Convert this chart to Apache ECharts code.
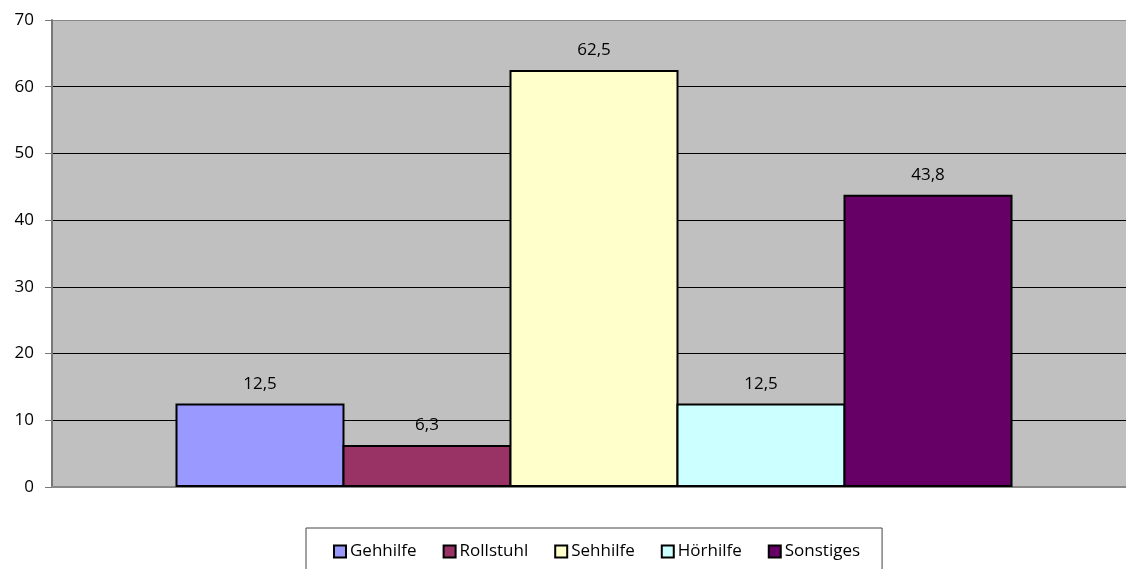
<!DOCTYPE html>
<html>
<head>
<meta charset="utf-8">
<script src="https://cdn.jsdelivr.net/npm/echarts@6/dist/echarts.min.js"></script>
<style>
html,body{margin:0;padding:0;background:#fff;overflow:hidden;}
#box{width:1136px;height:569px;}
</style>
</head>
<body>
<div id="box"></div>
<script>
//Daten
var names = ["Gehhilfe", "Rollstuhl", "Sehhilfe", "Hörhilfe", "Sonstiges"];
var values = [12.5, 6.3, 62.5, 12.5, 43.8];
var yTicks = [0, 10, 20, 30, 40, 50, 60, 70];

var colors = ["#9999FF", "#993366", "#FFFFCC", "#CCFFFF", "#660066"];
var font = "'Open Sans', sans-serif";

var series = [];
for (var i = 0; i < names.length; i++) {
	series.push({
		name: names[i],
		type: 'bar',
		data: [values[i]],
		barWidth: 169,
		barGap: '-1.18%',
		itemStyle: {
			color: colors[i],
			borderColor: '#000',
			borderWidth: 2
		},
		label: {
			show: true,
			position: 'top',
			distance: 11,
			color: '#000',
			fontSize: 17,
			fontFamily: font,
			formatter: function (p) {
				return String(p.value).replace('.', ',');
			}
		}
	});
}

var splitColors = yTicks.map(function (t, idx) {
	return idx === yTicks.length - 1 ? '#888' : '#000';
});

// Diagrammfläche geht rechts über den Bildrand hinaus
var option = {
	animation: false,
	backgroundColor: '#fff',
	grid: {
		left: 52,
		right: 0,
		top: 20,
		bottom: 82,
		show: true,
		backgroundColor: '#C0C0C0',
		borderWidth: 0
	},
	legend: {
		data: names,
		top: 528,
		left: 306,
		orient: 'horizontal',
		backgroundColor: '#fff',
		borderColor: '#444',
		borderWidth: 1,
		padding: [15, 22, 20, 27],
		itemWidth: 12,
		itemHeight: 12,
		itemGap: 26,
		icon: 'rect',
		itemStyle: {
			borderColor: '#000',
			borderWidth: 2
		},
		textStyle: {
			fontSize: 17,
			fontFamily: font,
			color: '#000',
			padding: [0, 0, 0, -1]
		}
	},
	xAxis: {
		type: 'category',
		data: [''],
		axisLine: {show: true, lineStyle: {color: '#888', width: 2}},
		axisTick: {show: false},
		axisLabel: {show: false}
	},
	yAxis: {
		type: 'value',
		min: 0,
		max: 70,
		interval: 10,
		axisLine: {show: true, lineStyle: {color: '#777', width: 2}},
		axisTick: {show: true, length: 7, lineStyle: {color: '#777', width: 1}},
		axisLabel: {
			fontSize: 17,
			fontFamily: font,
			color: '#000',
			margin: 18
		},
		splitLine: {show: true, lineStyle: {color: splitColors, width: 1}}
	},
	series: series
};

var chart = echarts.init(document.getElementById('box'));
chart.setOption(option);
</script>
</body>
</html>
